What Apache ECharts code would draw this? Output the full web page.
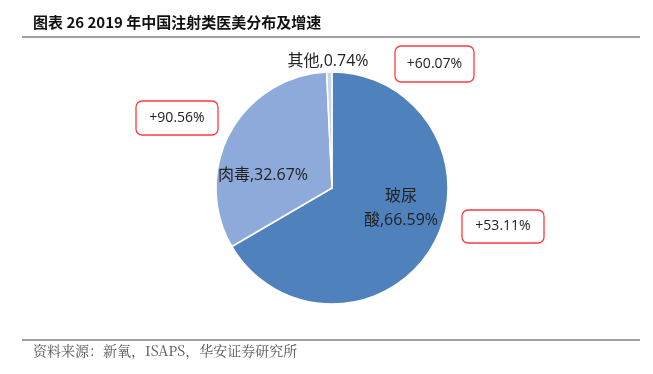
<!DOCTYPE html>
<html><head><meta charset="utf-8">
<script src="https://cdn.jsdelivr.net/npm/echarts@6/dist/echarts.min.js"></script>
<style>html,body{margin:0;padding:0;background:#fff}#c{width:653px;height:374px}</style>
</head><body><div id="c"></div>
<script>
const categories = ['玻尿酸', '肉毒', '其他'];
const shares = [66.59, 32.67, 0.74];
const growth = ['+53.11%', '+90.56%', '+60.07%'];
const titleText = '图表 26 2019 年中国注射类医美分布及增速';
const sourceText = '资料来源：新氧，ISAPS，华安证券研究所';

const colors = ['#4F81BD', '#8EAADB', '#C9D5EC'];
const labelNames = ['玻尿\n酸', '肉毒', '其他'];
const labelPos = [[401, 208], [263, 175], [328, 61]];
const boxes = [[395, 46, 79, 36], [136, 101, 82, 34], [462, 210, 82, 33]];
const boxOrder = [2, 1, 0];

const chart = echarts.init(document.getElementById('c'));
const graphics = [
  {type:'text', left:33, top:15, style:{text:titleText, font:'bold 15px "Noto Sans CJK SC", sans-serif', fill:'#111'}},
  {type:'line', shape:{x1:22, y1:37, x2:640, y2:37}, style:{stroke:'#444', lineWidth:1.2}},
  {type:'line', shape:{x1:22, y1:340, x2:640, y2:340}, style:{stroke:'#444', lineWidth:1.2}},
  {type:'text', left:33, top:344, style:{text:sourceText, font:'14px "Noto Serif CJK SC", "Noto Sans CJK SC", serif', fill:'#555'}}
];
growth.forEach((g, i) => {
  const b = boxes[boxOrder[i]];
  graphics.push({type:'rect', shape:{x:b[0], y:b[1], width:b[2], height:b[3], r:6},
    style:{fill:'#fff', stroke:'#FF3B3B', lineWidth:1.3}});
  graphics.push({type:'text', x:b[0]+b[2]/2, y:b[1]+b[3]/2,
    style:{text:g, font:'14px "Open Sans", sans-serif', fill:'#222', align:'center', verticalAlign:'middle'}});
});

chart.setOption({
  animation:false,
  graphic: graphics,
  series:[{
    type:'pie',
    center:[332, 188],
    radius:[0, 116],
    startAngle:90,
    clockwise:true,
    itemStyle:{borderColor:'#fff', borderWidth:1.5},
    label:{
      show:true, position:'inside', color:'#222', fontSize:16, lineHeight:24,
      fontFamily:'"Open Sans", "Noto Sans CJK SC", sans-serif', align:'center',
      formatter:(p) => labelNames[p.dataIndex] + ',' + p.value.toFixed(2) + '%'
    },
    labelLine:{show:false},
    labelLayout:(p) => ({x: labelPos[p.dataIndex][0], y: labelPos[p.dataIndex][1], align:'center', verticalAlign:'middle'}),
    data: categories.map((c, i) => ({name:c, value:shares[i], itemStyle:{color:colors[i]}}))
  }]
});
</script></body></html>
